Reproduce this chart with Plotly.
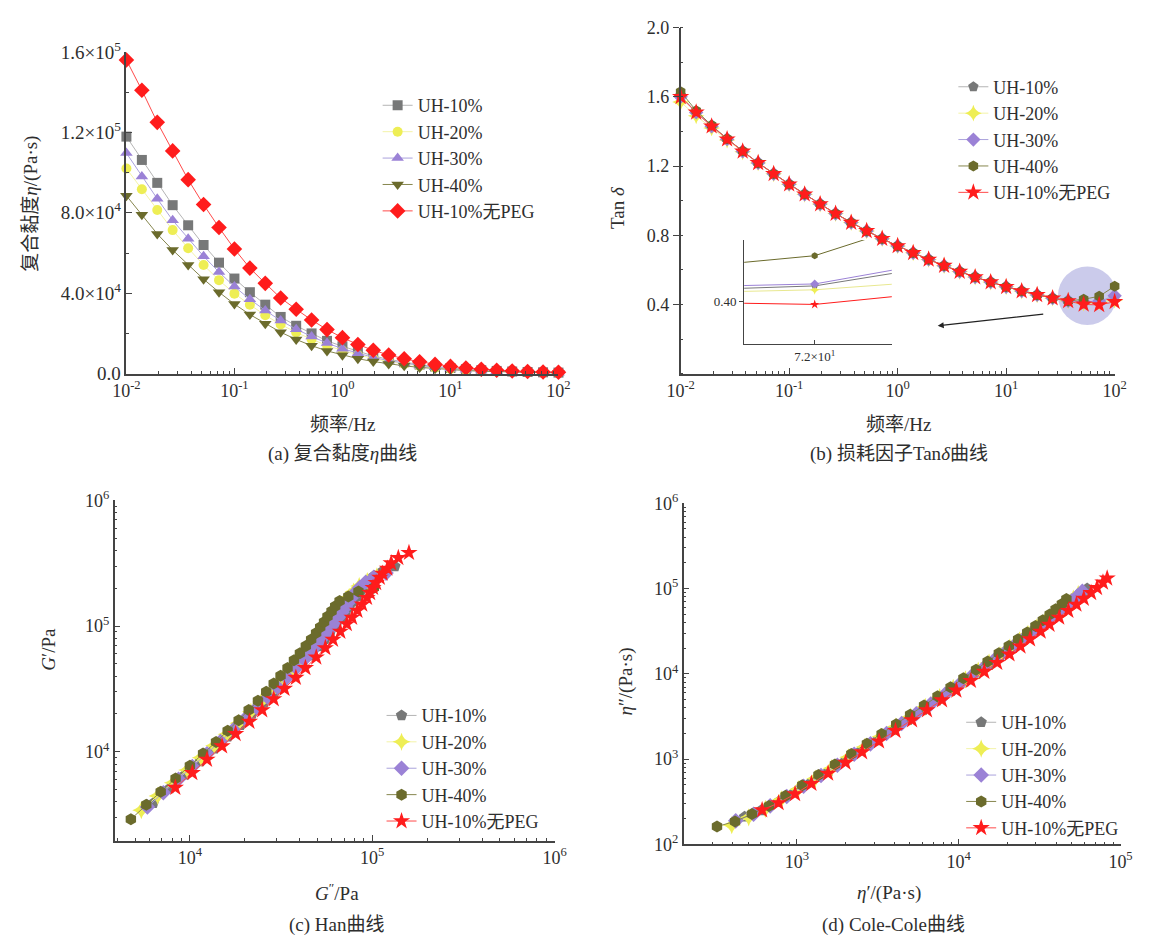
import plotly.graph_objects as go

# ---------------- data ----------------
names = ["UH-10%", "UH-20%", "UH-30%", "UH-40%", "UH-10%无PEG"]

# frequency sweep, Hz (panels a, b)
freq = [0.01, 0.0139, 0.0193, 0.0268, 0.0373, 0.0518, 0.072, 0.1, 0.139, 0.193,
        0.268, 0.373, 0.518, 0.72, 1.0, 1.39, 1.93, 2.68, 3.73, 5.18,
        7.2, 10, 13.9, 19.3, 26.8, 37.3, 51.8, 72, 100]

# (a) complex viscosity, Pa·s
eta_uh10 = [117900, 106300, 94900, 83800, 73800, 64000, 55200, 47300, 40500, 34300,
            28200, 23800, 20000, 16300, 13600, 11000, 8800, 7100, 5650, 4500,
            3550, 2800, 2200, 1720, 1340, 1050, 830, 650, 520]
eta_uh20 = [102000, 91700, 81400, 71400, 62400, 54000, 46500, 39800, 34300, 29000,
            24500, 20500, 17100, 14000, 11500, 9300, 7450, 5950, 4750, 3780,
            2970, 2330, 1820, 1430, 1110, 870, 690, 545, 430]
eta_uh30 = [109700, 98100, 87000, 76300, 67100, 58400, 50500, 43300, 37000, 31400,
            26400, 22100, 18500, 15200, 12400, 10050, 8050, 6450, 5150, 4100,
            3220, 2530, 1970, 1550, 1200, 940, 740, 585, 460]
eta_uh40 = [88500, 79000, 69500, 61500, 54000, 47000, 40500, 34600, 29400, 24800,
            20600, 17000, 13900, 11300, 9200, 7450, 6000, 4850, 3880, 3100,
            2450, 1930, 1510, 1190, 930, 730, 575, 455, 360]
eta_red = [156000, 141000, 125000, 110800, 96500, 84100, 72700, 62000, 52500, 44900,
           37600, 32000, 26700, 21900, 17900, 14500, 11600, 9300, 7400, 5900,
           4600, 3600, 2800, 2200, 1700, 1330, 1050, 830, 660]

# (b) loss factor tan δ
tan_uh10 = [1.61, 1.51, 1.43, 1.355, 1.285, 1.218, 1.155, 1.095, 1.037, 0.980,
            0.925, 0.873, 0.825, 0.780, 0.738, 0.698, 0.660, 0.624, 0.590, 0.558,
            0.529, 0.502, 0.477, 0.455, 0.436, 0.421, 0.410, 0.416, 0.445]
tan_uh20 = [1.57, 1.49, 1.42, 1.350, 1.282, 1.218, 1.155, 1.095, 1.037, 0.980,
            0.925, 0.873, 0.825, 0.780, 0.738, 0.698, 0.660, 0.624, 0.590, 0.558,
            0.529, 0.502, 0.477, 0.455, 0.436, 0.420, 0.408, 0.412, 0.425]
tan_uh30 = [1.60, 1.51, 1.43, 1.355, 1.285, 1.218, 1.155, 1.095, 1.037, 0.980,
            0.925, 0.873, 0.825, 0.780, 0.738, 0.698, 0.660, 0.624, 0.590, 0.558,
            0.529, 0.502, 0.477, 0.455, 0.436, 0.421, 0.414, 0.418, 0.450]
tan_uh40 = [1.63, 1.52, 1.435, 1.358, 1.287, 1.218, 1.155, 1.095, 1.037, 0.980,
            0.925, 0.873, 0.825, 0.780, 0.738, 0.698, 0.660, 0.624, 0.590, 0.558,
            0.529, 0.502, 0.477, 0.455, 0.436, 0.420, 0.430, 0.447, 0.505]
tan_red = [1.60, 1.51, 1.43, 1.355, 1.285, 1.218, 1.155, 1.095, 1.037, 0.980,
           0.925, 0.873, 0.825, 0.780, 0.738, 0.698, 0.660, 0.624, 0.590, 0.558,
           0.529, 0.502, 0.477, 0.455, 0.436, 0.420, 0.400, 0.397, 0.415]

# (c) Han plot: G' (y) and G'' (x), Pa
gp_uh10 = [3910, 5130, 6600, 8380, 10600, 13200, 16300, 20000, 24600, 29700,
           34900, 42000, 50200, 58100, 68800, 78800, 89100, 101000, 114000, 128000,
           142000, 157000, 173000, 190000, 207000, 227000, 250000, 271000, 299000]
gpp_uh10 = [6290, 7740, 9430, 11400, 13600, 16100, 18900, 21900, 25500, 29100,
            32200, 36700, 41400, 45400, 50700, 55000, 58800, 63300, 67300, 71400,
            75100, 78900, 82700, 86400, 90200, 95500, 102000, 113000, 133000]
gp_uh20 = [3440, 4460, 5680, 7160, 8990, 11200, 13800, 16900, 20800, 25100,
           30300, 36200, 42900, 49900, 58100, 66600, 75400, 85000, 95900, 107000,
           119000, 131000, 143000, 158000, 171000, 188000, 208000, 228000, 249000]
gpp_uh20 = [5410, 6650, 8070, 9660, 11500, 13600, 15900, 18500, 21600, 24600,
            28000, 31600, 35400, 39000, 42900, 46500, 49800, 53000, 56600, 59900,
            62800, 65700, 68400, 71800, 74700, 79000, 84800, 93900, 106000]
gp_uh30 = [3650, 4730, 6050, 7630, 9660, 12100, 15000, 18300, 22400, 27200,
           32600, 39000, 46400, 54200, 62700, 72000, 81500, 92100, 104000, 117000,
           129000, 142000, 155000, 171000, 185000, 203000, 223000, 244000, 264000]
gpp_uh30 = [5840, 7140, 8650, 10300, 12400, 14700, 17300, 20100, 23300, 26700,
            30200, 34100, 38300, 42300, 46300, 50200, 53800, 57500, 61300, 65000,
            68100, 71300, 74100, 77800, 80800, 85500, 92100, 102000, 119000]
gp_uh40 = [2910, 3790, 4820, 6140, 7760, 9710, 12000, 14700, 17800, 21500,
           25500, 30000, 34900, 40300, 46500, 53400, 60700, 69300, 78300, 88100,
           98000, 108000, 119000, 131000, 144000, 158000, 172000, 188000, 202000]
gpp_uh40 = [4740, 5760, 6910, 8340, 9990, 11800, 13900, 16100, 18500, 21000,
            23600, 26200, 28800, 31400, 34300, 37200, 40100, 43200, 46200, 49200,
            51800, 54400, 56800, 59800, 62600, 66200, 73900, 84000, 102000]
gp_red = [5190, 6800, 8690, 11100, 13900, 17400, 21500, 26300, 31800, 38900,
          46500, 56500, 67000, 78100, 90500, 104000, 117000, 133000, 149000, 168000,
          184000, 202000, 221000, 243000, 262000, 287000, 317000, 349000, 383000]
gpp_red = [8310, 10300, 12400, 15000, 17800, 21200, 24900, 28800, 33000, 38100,
           43000, 49300, 55300, 60900, 66800, 72500, 77500, 82900, 88100, 93600,
           97300, 101000, 105000, 110000, 114000, 121000, 127000, 139000, 159000]

# (d) Cole-Cole plot: η' (x) and η'' (y), Pa·s
ep_uh10 = [62200, 58700, 54400, 49800, 45300, 40600, 36100, 31900, 28100, 24500,
           20700, 17900, 15400, 12900, 10900, 9020, 7340, 6020, 4870, 3930,
           3140, 2500, 1990, 1570, 1230, 968, 768, 600, 475]
epp_uh10 = [100000, 88600, 77800, 67400, 58200, 49500, 41700, 34900, 29200, 24000,
            19100, 15700, 12700, 10000, 8080, 6300, 4850, 3760, 2870, 2190,
            1660, 1260, 947, 712, 536, 407, 315, 250, 211]
ep_uh20 = [54800, 51100, 46900, 42500, 38400, 34300, 30400, 26800, 23800, 20700,
           18000, 15400, 13200, 11000, 9250, 7630, 6220, 5050, 4090, 3300,
           2630, 2080, 1640, 1300, 1020, 802, 639, 504, 396]
epp_uh20 = [86000, 76100, 66600, 57400, 49200, 41700, 35200, 29400, 24700, 20300,
            16600, 13500, 10900, 8610, 6830, 5320, 4100, 3150, 2410, 1840,
            1390, 1050, 784, 592, 444, 337, 261, 208, 168]
ep_uh30 = [58100, 54200, 49900, 45300, 41200, 37100, 33100, 29200, 25700, 22400,
           19400, 16600, 14300, 12000, 9980, 8240, 6720, 5470, 4440, 3580,
           2850, 2260, 1780, 1410, 1100, 866, 684, 540, 419]
epp_uh30 = [93000, 81800, 71300, 61400, 53000, 45100, 38200, 32000, 26600, 22000,
            17900, 14500, 11800, 9350, 7360, 5750, 4430, 3410, 2620, 2000,
            1510, 1140, 848, 642, 480, 365, 283, 226, 189]
ep_uh40 = [46300, 43400, 39700, 36500, 33100, 29800, 26500, 23300, 20400, 17700,
           15100, 12800, 10700, 8910, 7400, 6110, 5010, 4110, 3340, 2710,
           2170, 1720, 1360, 1080, 852, 673, 528, 415, 321]
epp_uh40 = [75400, 66000, 57000, 49500, 42600, 36300, 30600, 25500, 21200, 17400,
            14000, 11200, 8850, 6950, 5460, 4260, 3310, 2570, 1970, 1510,
            1150, 866, 650, 493, 372, 283, 227, 186, 162]
ep_red = [82700, 77900, 71600, 65800, 59300, 53400, 47600, 41800, 36400, 32100,
          27600, 24100, 20600, 17300, 14400, 11900, 9680, 7890, 6370, 5150,
          4070, 3220, 2530, 2000, 1560, 1230, 975, 771, 610]
epp_red = [132000, 118000, 102000, 89200, 76200, 65000, 55000, 45800, 37800, 31400,
           25500, 21000, 17000, 13500, 10600, 8300, 6390, 4920, 3760, 2870,
           2150, 1620, 1210, 911, 679, 515, 390, 306, 253]

# tick labels
fx_ticks = [0.01, 0.1, 1, 10, 100]
fx_text = ["10<sup>-2</sup>", "10<sup>-1</sup>", "10<sup>0</sup>", "10<sup>1</sup>", "10<sup>2</sup>"]
a_yticks = [0, 40000, 80000, 120000, 160000]
a_ytext = ["0.0", "4.0×10<sup>4</sup>", "8.0×10<sup>4</sup>", "1.2×10<sup>5</sup>", "1.6×10<sup>5</sup>"]
b_yticks = [0.4, 0.8, 1.2, 1.6, 2.0]
b_ytext = ["0.4", "0.8", "1.2", "1.6", "2.0"]
c_ticks = [1e4, 1e5, 1e6]
c_text = ["10<sup>4</sup>", "10<sup>5</sup>", "10<sup>6</sup>"]
d_xticks = [1e3, 1e4, 1e5]
d_xtext = ["10<sup>3</sup>", "10<sup>4</sup>", "10<sup>5</sup>"]
d_yticks = [1e2, 1e3, 1e4, 1e5, 1e6]
d_ytext = ["10<sup>2</sup>", "10<sup>3</sup>", "10<sup>4</sup>", "10<sup>5</sup>", "10<sup>6</sup>"]
inset_xticks = [72]
inset_xtext = ["7.2×10<sup>1</sup>"]
inset_yticks = [0.40]
inset_ytext = ["0.40"]

etas = [eta_uh10, eta_uh20, eta_uh30, eta_uh40, eta_red]
tans = [tan_uh10, tan_uh20, tan_uh30, tan_uh40, tan_red]
han_x = [gpp_uh10, gpp_uh20, gpp_uh30, gpp_uh40, gpp_red]
han_y = [gp_uh10, gp_uh20, gp_uh30, gp_uh40, gp_red]
cc_x = [ep_uh10, ep_uh20, ep_uh30, ep_uh40, ep_red]
cc_y = [epp_uh10, epp_uh20, epp_uh30, epp_uh40, epp_red]

# ---------------- style ----------------
SERIF = "Liberation Serif, Times New Roman, Noto Sans CJK SC"
TXT = "#2e2e2e"
W, H = 1155, 948

def px(x):
    return x / W

def py(y):
    return 1 - y / H

mk_colors = ["#777878", "#eeee55", "#9b82d6", "#6b6b2c", "#ff1c1c"]
ln_colors = ["#b4b4b4", "#f3f3a8", "#aaa2dc", "#86864e", "#ff4a4a"]
sym_a = ["square", "circle", "triangle-up", "triangle-down", "diamond"]
size_a = [10, 10, 11, 11, 12]
sym_b = ["pentagon", "star-diamond", "diamond", "hexagon", "star"]
size_b = [11, 12, 11, 11, 13]
size_cd = [12, 13, 12, 12, 13]

fig = go.Figure()

def add_series(xs, ys, xa, ya, leg, syms, sizes):
    for i in range(5):
        fig.add_trace(go.Scatter(x=xs[i], y=ys[i], name=names[i], mode="lines+markers",
                                 xaxis=xa, yaxis=ya, legend=leg, cliponaxis=False,
                                 line=dict(color=ln_colors[i], width=1),
                                 marker=dict(symbol=syms[i], size=sizes[i], color=mk_colors[i])))

add_series([freq] * 5, etas, "x", "y", "legend", sym_a, size_a)
add_series([freq] * 5, tans, "x2", "y2", "legend2", sym_b, size_b)
add_series(han_x, han_y, "x3", "y3", "legend3", sym_b, size_cd)
add_series(cc_x, cc_y, "x4", "y4", "legend4", sym_b, size_cd)

# (b) inset: zoom on the 72 Hz region
for i in range(5):
    fig.add_trace(go.Scatter(x=freq, y=tans[i], name=names[i], mode="lines+markers",
                             xaxis="x5", yaxis="y5", showlegend=False, cliponaxis=True,
                             line=dict(color=mk_colors[i] if i != 1 else "#e8e890", width=1),
                             marker=dict(symbol=sym_b[i], size=7, color=mk_colors[i])))

TICKFONT = dict(family=SERIF, size=18, color=TXT)

def axis(domain, anchor, **kw):
    d = dict(domain=domain, anchor=anchor, showline=True, linecolor="#444", linewidth=1.5,
             showgrid=False, zeroline=False, ticks="inside", ticklen=6, tickwidth=1.2,
             tickcolor="#444", tickfont=TICKFONT)
    d.update(kw)
    return d

minor_log = dict(ticks="inside", ticklen=3, dtick="D1", tickcolor="#444")

def legend_at(x, y):
    return dict(x=px(x), y=py(y), xanchor="left", yanchor="top", bgcolor="rgba(0,0,0,0)",
                font=dict(family=SERIF, size=18, color=TXT))

fig.update_layout(
    width=W, height=H, margin=dict(l=0, r=0, t=0, b=0), autosize=False,
    paper_bgcolor="white", plot_bgcolor="rgba(0,0,0,0)",
    font=dict(family=SERIF, color=TXT),
    xaxis=axis([px(115), px(557)], "y", type="log", range=[-2, 2], tickmode="array",
               tickvals=fx_ticks, ticktext=fx_text, minor=minor_log),
    yaxis=axis([py(370), py(40)], "x", range=[0, 160000], tickmode="array",
               tickvals=a_yticks, ticktext=a_ytext, tickfont=dict(family=SERIF, size=19, color=TXT),
               minor=dict(ticks="inside", ticklen=3, dtick=20000, tickcolor="#444")),
    xaxis2=axis([px(682), px(1126)], "y2", type="log", range=[-2, 2], tickmode="array",
                tickvals=fx_ticks, ticktext=fx_text, minor=minor_log),
    yaxis2=axis([py(370), py(15)], "x2", range=[0, 2.0], tickmode="array",
                tickvals=b_yticks, ticktext=b_ytext, ticks="outside",
                minor=dict(ticks="inside", ticklen=3, dtick=0.2, tickcolor="#444")),
    xaxis3=axis([px(103), px(553)], "y3", type="log", range=[3.587, 6], tickmode="array",
                tickvals=c_ticks, ticktext=c_text, minor=minor_log),
    yaxis3=axis([py(849), py(500)], "x3", type="log", range=[3.295, 6], tickmode="array",
                tickvals=c_ticks, ticktext=c_text, minor=minor_log),
    xaxis4=axis([px(685), px(1132)], "y4", type="log", range=[2.30, 5], tickmode="array",
                tickvals=d_xticks, ticktext=d_xtext, minor=minor_log),
    yaxis4=axis([py(853), py(503)], "x4", type="log", range=[2, 6], tickmode="array",
                tickvals=d_yticks, ticktext=d_ytext, minor=minor_log),
    xaxis5=axis([px(747), px(898)], "y5", type="log", range=[1.80, 1.92], tickmode="array",
                tickvals=inset_xticks, ticktext=inset_xtext, linewidth=1.2, ticklen=4,
                tickfont=dict(family=SERIF, size=13, color=TXT)),
    yaxis5=axis([py(340), py(233)], "x5", range=[0.356, 0.463], tickmode="array",
                tickvals=inset_yticks, ticktext=inset_ytext, ticks="outside", linewidth=1.2,
                ticklen=4, tickfont=dict(family=SERIF, size=13, color=TXT)),
    legend=legend_at(372, 76),
    legend2=legend_at(961, 57),
    legend3=legend_at(376, 702),
    legend4=legend_at(969, 709),
    shapes=[dict(type="circle", xref="paper", yref="paper", x0=px(1068), x1=px(1128),
                 y0=py(320), y1=py(260), fillcolor="rgba(140,140,210,0.45)",
                 line=dict(width=0), layer="below")],
)

def note(x, y, text, size=19, angle=0):
    fig.add_annotation(x=px(x), y=py(y), xref="paper", yref="paper", text=text,
                       xanchor="center", yanchor="middle", showarrow=False, textangle=angle,
                       font=dict(family=SERIF, size=size, color=TXT))

note(17, 196, "复合黏度<i>η</i>/(Pa·s)", 19, -90)
note(336, 422, "频率/Hz", 19)
note(336, 452, "(a) 复合黏度<i>η</i>曲线", 19)
note(618, 200, "Tan <i>δ</i>", 19, -90)
note(905, 422, "频率/Hz", 19)
note(905, 452, "(b) 损耗因子Tan<i>δ</i>曲线", 19)
note(35, 653, "<i>G</i>′/Pa", 19, -90)
note(330, 902, "<i>G</i><sup>″</sup>/Pa", 19)
note(330, 936, "(c) Han曲线", 19)
note(626, 686, "<i>η</i>″/(Pa·s)", 19, -90)
note(895, 903, "<i>η</i>′/(Pa·s)", 19)
note(900, 936, "(d) Cole-Cole曲线", 19)

fig.add_annotation(x=px(945), y=py(321), xref="paper", yref="paper", text="", showarrow=True,
                   ax=107, ay=-12, arrowhead=2, arrowsize=1, arrowwidth=1.2, arrowcolor="#222")

fig.write_html("out.html")
